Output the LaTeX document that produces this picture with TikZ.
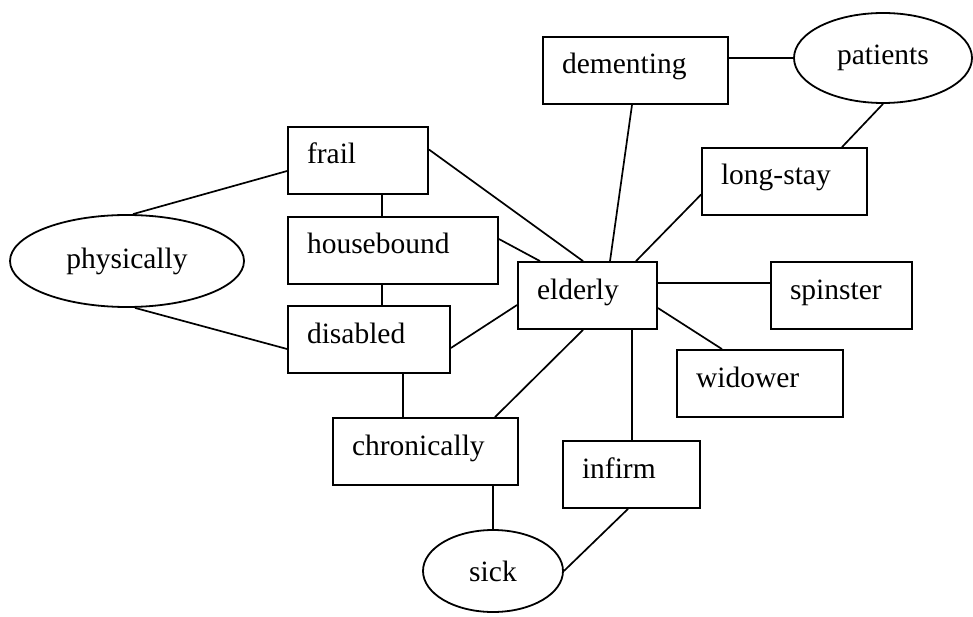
\documentclass[tikz,border=0pt]{standalone}
\usepackage{fontspec}
\setmainfont{Liberation Serif}
\usetikzlibrary{shapes.geometric,calc}
\tikzset{
  box/.style={draw, line width=1.8pt, rectangle, inner xsep=19pt, inner ysep=0pt,
    text height=37pt, text depth=30pt, align=left, font=\fontsize{29.5}{30}\selectfont},
  oval/.style={draw, line width=1.8pt, ellipse, inner sep=0pt, font=\fontsize{29.5}{30}\selectfont},
  link/.style={line width=1.7pt}
}
\begin{document}
\begin{tikzpicture}[x=1pt,y=1pt]
\useasboundingbox (0,0) rectangle (973,-617);
% nodes
\node[box, text width=147pt] (dementing) at (635.5,-70.5) {dementing};
\node[oval, minimum width=178pt, minimum height=90pt] (patients) at (883,-58) {patients};
\node[box, text width=102pt] (frail) at (358,-160.5) {frail};
\node[box, text width=127pt] (longstay) at (784.5,-181.5) {long-stay};
\node[oval, minimum width=234pt, minimum height=92pt] (physically) at (127,-261) {physically};
\node[box, text width=172pt] (housebound) at (393,-250.5) {housebound};
\node[box, text width=101pt] (elderly) at (587.5,-295.5) {elderly};
\node[box, text width=103pt] (spinster) at (841.5,-295.5) {spinster};
\node[box, text width=124pt] (disabled) at (369,-339.5) {disabled};
\node[box, text width=128pt] (widower) at (760,-383.5) {widower};
\node[box, text width=147pt] (chronically) at (425.5,-451.5) {chronically};
\node[box, text width=99pt] (infirm) at (631.5,-474.5) {infirm};
\node[oval, minimum width=140pt, minimum height=82pt] (sick) at (493,-571) {sick};
% connectors
\draw[link] (dementing.east |- patients.west) -- (patients.west);
\draw[link] (patients.south) -- ($(longstay.north)+(57.5,0)$);
\draw[link] ($(dementing.south)+(-3.5,0)$) -- ($(elderly.north)+(22.5,0)$);
\draw[link] ($(longstay.west)+(0,-13)$) -- ($(elderly.north)+(48.5,0)$);
\draw[link] ($(frail.east)+(0,11)$) -- ($(elderly.north)+(-4.5,0)$);
\draw[link] ($(housebound.east)+(0,11.5)$) -- ($(elderly.north)+(-47.5,0)$);
\draw[link] ($(frail.south)+(24,0)$) -- ($(housebound.north)+(-11,0)$);
\draw[link] ($(housebound.south)+(-11,0)$) -- ($(disabled.north)+(13,0)$);
\draw[link] ($(frail.west)+(0,-10.5)$) -- ($(physically.north)+(6,0)$);
\draw[link] ($(physically.south)+(8,0)$) -- ($(disabled.west)+(0,-9.5)$);
\draw[link] ($(disabled.east)+(0,-8.5)$) -- ($(elderly.west)+(0,-9.5)$);
\draw[link] ($(disabled.south)+(34,0)$) -- ($(chronically.north)+(-22.5,0)$);
\draw[link] ($(chronically.north)+(69.5,0)$) -- ($(elderly.south)+(-4.5,0)$);
\draw[link] ($(infirm.north |- elderly.south)+(0.5,0)$) -- ($(infirm.north)+(0.5,0)$);
\draw[link] ($(elderly.east)+(0,12.5)$) coordinate (es) -- (es -| spinster.west);
\draw[link] ($(elderly.east)+(0,-12.5)$) -- ($(widower.north)+(-38,0)$);
\draw[link] (sick.north |- chronically.south) -- (sick.north);
\draw[link] ($(infirm.south)+(-3.5,0)$) -- (sick.east);
\end{tikzpicture}
\end{document}
